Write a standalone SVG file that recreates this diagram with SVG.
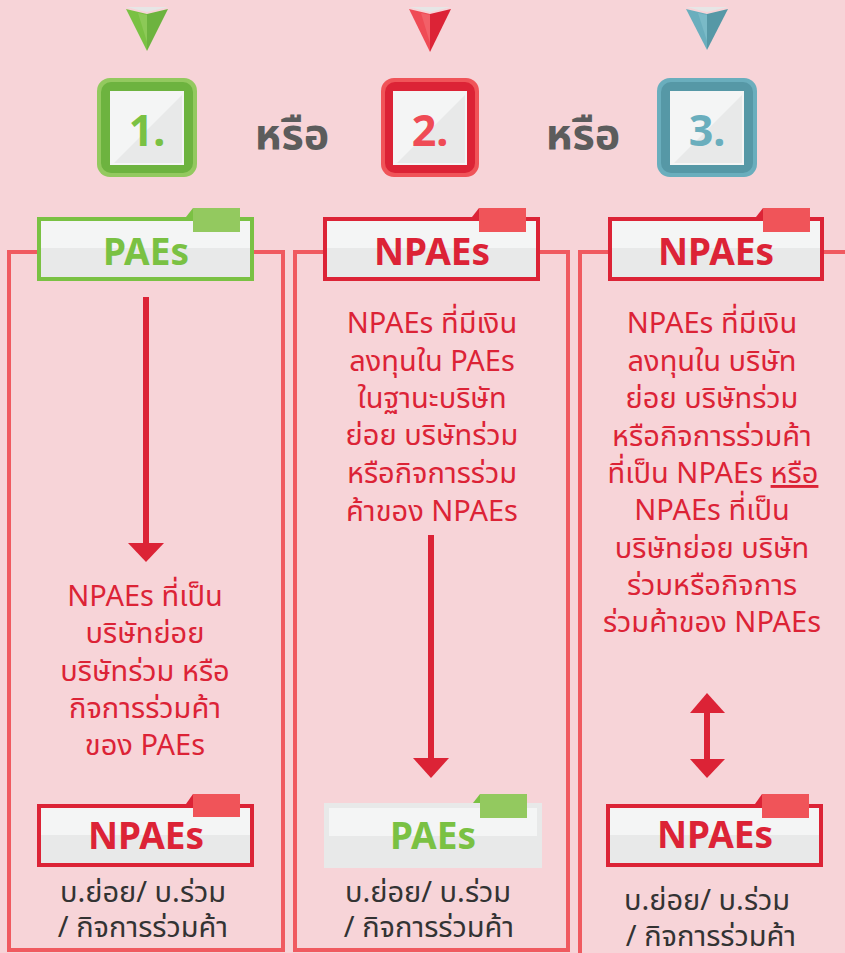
<svg xmlns="http://www.w3.org/2000/svg" width="845" height="953" viewBox="0 0 845 953">
<style>
.frame{fill:none;stroke:#f05a60;stroke-width:4}
.hi{fill:#f4f5f5}
.lo{fill:#e8e9e9}
.lbl{font-family:'Noto Sans','Open Sans','DejaVu Sans',sans-serif;font-weight:bold;font-size:37px;text-anchor:middle}
.body{font-family:'Noto Sans Thai','Tahoma','Noto Sans','DejaVu Sans',sans-serif;font-size:29px;text-anchor:middle;fill:#dc2336}
.sub{font-family:'Noto Sans Thai','Tahoma','Noto Sans','DejaVu Sans',sans-serif;font-size:29px;text-anchor:middle;fill:#333333}
.or{font-family:'Noto Sans Thai','Tahoma','Noto Sans','DejaVu Sans',sans-serif;font-size:43px;font-weight:bold;text-anchor:middle;fill:#5c5c5c}
.num{font-family:'Noto Sans','Open Sans',sans-serif;font-size:43px;font-weight:bold;text-anchor:middle}
.arr{stroke:#dc2336;stroke-width:6;fill:none}
.head{fill:#dc2336}
</style>
<rect x="0" y="0" width="845" height="953" fill="#f7d4d8"/>

<g id="columns">
<rect class="frame" x="9" y="252" width="274" height="698"/>
<rect class="frame" x="295" y="252" width="273" height="698"/>
<rect class="frame" x="580" y="252" width="300" height="720"/>
</g>

<g id="pointer-1">
<polygon points="126,7 168,7 147,12" fill="#e6e6e6"/>
<polygon points="126,9 147,14 147,51" fill="#7ac143"/>
<polygon points="168,9 147,14 147,51" fill="#6db33f"/>
<polygon points="138,13 147,15 147,42" fill="#8cc957"/>
</g>
<g id="pointer-2">
<polygon points="409,7 451,7 430,12" fill="#e6e6e6"/>
<polygon points="409,9 430,14 430,52" fill="#ef4b55"/>
<polygon points="451,9 430,14 430,52" fill="#dc2336"/>
<polygon points="421,13 430,15 430,43" fill="#f26068"/>
</g>
<g id="pointer-3">
<polygon points="686,7 728,7 707,12" fill="#e6e6e6"/>
<polygon points="686,9 707,14 707,50" fill="#6aaebd"/>
<polygon points="728,9 707,14 707,50" fill="#5698a6"/>
<polygon points="698,13 707,15 707,41" fill="#7abac7"/>
</g>

<g id="box-1">
<rect x="97" y="78" width="100" height="99" rx="13" fill="#93c95f"/>
<rect x="101" y="82" width="92" height="91" rx="10" fill="#6db33f"/>
<rect class="hi" x="110" y="91" width="74" height="74"/>
<polygon class="lo" points="182,95 182,163 114,163"/>
<text class="num" x="147" y="146" fill="#7ac143">1.</text>
</g>
<g id="or-1"><text class="or" x="292" y="149">หรือ</text></g>
<g id="box-2">
<rect x="381" y="78" width="98" height="99" rx="13" fill="#f05459"/>
<rect x="385" y="82" width="90" height="91" rx="10" fill="#dc2336"/>
<rect class="hi" x="393" y="91" width="74" height="74"/>
<polygon class="lo" points="465,95 465,163 397,163"/>
<text class="num" x="430" y="146" fill="#ef4b55">2.</text>
</g>
<g id="or-2"><text class="or" x="583" y="149">หรือ</text></g>
<g id="box-3">
<rect x="657" y="78" width="100" height="99" rx="13" fill="#6aaebd"/>
<rect x="661" y="82" width="92" height="91" rx="10" fill="#5698a6"/>
<rect class="hi" x="670" y="91" width="74" height="74"/>
<polygon class="lo" points="742,95 742,163 674,163"/>
<text class="num" x="707" y="146" fill="#6aaebd">3.</text>
</g>

<g id="label-1-top">
<rect x="37" y="217" width="217" height="64" fill="#7ac143"/>
<rect class="lo" x="41" y="221" width="209" height="56"/>
<rect class="hi" x="41" y="221" width="209" height="27"/>
<polygon points="186,217 193,208 193,217" fill="#7ac143"/>
<rect x="193" y="208" width="47" height="24" fill="#93c95f"/>
<text class="lbl" x="146" y="265" fill="#7ac143">PAEs</text>
</g>
<g id="label-2-top">
<rect x="323" y="217" width="217" height="64" fill="#dc2336"/>
<rect class="lo" x="327" y="221" width="209" height="56"/>
<rect class="hi" x="327" y="221" width="209" height="27"/>
<polygon points="472,217 479,208 479,217" fill="#dc2336"/>
<rect x="479" y="208" width="47" height="24" fill="#f05459"/>
<text class="lbl" x="432" y="265" fill="#dc2336">NPAEs</text>
</g>
<g id="label-3-top">
<rect x="608" y="217" width="216" height="64" fill="#dc2336"/>
<rect class="lo" x="612" y="221" width="208" height="56"/>
<rect class="hi" x="612" y="221" width="208" height="27"/>
<polygon points="756,217 763,208 763,217" fill="#dc2336"/>
<rect x="763" y="208" width="47" height="24" fill="#f05459"/>
<text class="lbl" x="716" y="265" fill="#dc2336">NPAEs</text>
</g>

<g id="text-1">
<text class="body" x="145" y="606">NPAEs ที่เป็น</text>
<text class="body" x="145" y="643">บริษัทย่อย</text>
<text class="body" x="145" y="681">บริษัทร่วม หรือ</text>
<text class="body" x="145" y="718">กิจการร่วมค้า</text>
<text class="body" x="145" y="755">ของ PAEs</text>
</g>
<g id="text-2">
<text class="body" x="432" y="333">NPAEs ที่มีเงิน</text>
<text class="body" x="432" y="371">ลงทุนใน PAEs</text>
<text class="body" x="432" y="408">ในฐานะบริษัท</text>
<text class="body" x="432" y="445">ย่อย บริษัทร่วม</text>
<text class="body" x="432" y="483">หรือกิจการร่วม</text>
<text class="body" x="432" y="521">ค้าของ NPAEs</text>
</g>
<g id="text-3">
<text class="body" x="712" y="333">NPAEs ที่มีเงิน</text>
<text class="body" x="712" y="371">ลงทุนใน บริษัท</text>
<text class="body" x="712" y="408">ย่อย บริษัทร่วม</text>
<text class="body" x="712" y="446">หรือกิจการร่วมค้า</text>
<text class="body" x="713" y="483">ที่เป็น NPAEs <tspan text-decoration="underline">หรือ</tspan></text>
<text class="body" x="712" y="520">NPAEs ที่เป็น</text>
<text class="body" x="712" y="558">บริษัทย่อย บริษัท</text>
<text class="body" x="712" y="595">ร่วมหรือกิจการ</text>
<text class="body" x="712" y="632">ร่วมค้าของ NPAEs</text>
</g>

<g id="connectors">
<line class="arr" x1="146" y1="297" x2="146" y2="545"/>
<polygon class="head" points="128,543 164,543 146,562"/>
<line class="arr" x1="431" y1="535" x2="431" y2="760"/>
<polygon class="head" points="413,758 449,758 431,778"/>
<line class="arr" x1="707" y1="710" x2="707" y2="762"/>
<polygon class="head" points="690,713 725,713 707,693"/>
<polygon class="head" points="690,759 725,759 707,778"/>
</g>

<g id="label-1-bottom">
<rect x="37" y="804" width="217" height="63" fill="#dc2336"/>
<rect class="lo" x="41" y="808" width="209" height="55"/>
<rect class="hi" x="41" y="808" width="209" height="27"/>
<polygon points="186,804 193,794 193,804" fill="#dc2336"/>
<rect x="193" y="794" width="47" height="23" fill="#f05459"/>
<text class="lbl" x="146" y="849" fill="#dc2336">NPAEs</text>
<text class="sub" x="143" y="902">บ.ย่อย/ บ.ร่วม</text>
<text class="sub" x="143" y="937">/ กิจการร่วมค้า</text>
</g>
<g id="label-2-bottom">
<rect class="lo" x="324" y="803" width="218" height="65"/>
<rect class="hi" x="329" y="808" width="208" height="28"/>
<polygon points="473,803 480,794 480,803" fill="#7ac143"/>
<rect x="480" y="794" width="47" height="24" fill="#93c95f"/>
<text class="lbl" x="433" y="849" fill="#7ac143">PAEs</text>
<text class="sub" x="428" y="902">บ.ย่อย/ บ.ร่วม</text>
<text class="sub" x="429" y="937">/ กิจการร่วมค้า</text>
</g>
<g id="label-3-bottom">
<rect x="606" y="804" width="217" height="63" fill="#dc2336"/>
<rect class="lo" x="610" y="808" width="209" height="55"/>
<rect class="hi" x="610" y="808" width="209" height="27"/>
<polygon points="755,804 762,794 762,804" fill="#dc2336"/>
<rect x="762" y="794" width="47" height="24" fill="#f05459"/>
<text class="lbl" x="715" y="848" fill="#dc2336">NPAEs</text>
<text class="sub" x="707" y="910">บ.ย่อย/ บ.ร่วม</text>
<text class="sub" x="711" y="946">/ กิจการร่วมค้า</text>
</g>
</svg>
